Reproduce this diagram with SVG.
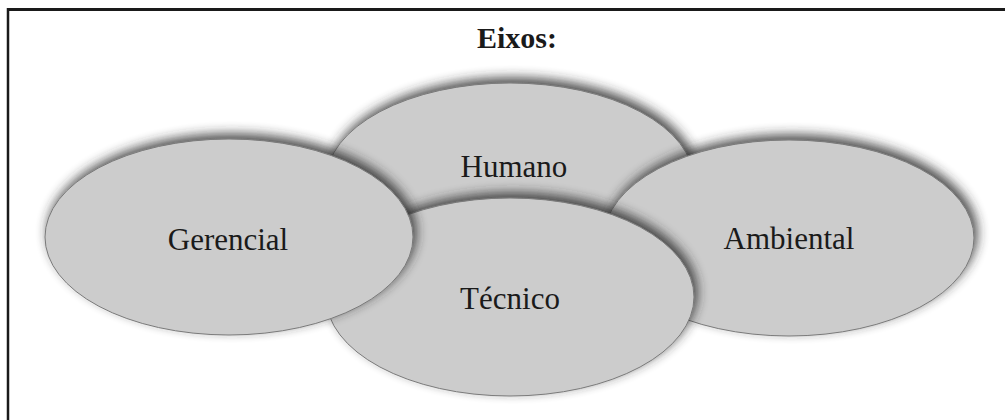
<svg xmlns="http://www.w3.org/2000/svg" width="1005" height="420" viewBox="0 0 1005 420">
<style>
.el{fill:#cccccc;stroke:#7a7a7a;stroke-width:1;filter:url(#sh)}
.lbl{font-family:"Liberation Serif","Times New Roman",serif;font-size:31px;fill:#1a1a1a;text-anchor:middle}
.title{font-family:"Liberation Serif","Times New Roman",serif;font-size:30px;font-weight:bold;fill:#1a1a1a;text-anchor:middle}
</style>
<defs>
<filter id="sh" x="-20%" y="-30%" width="140%" height="160%">
<feGaussianBlur in="SourceAlpha" stdDeviation="6" result="b"/>
<feOffset in="b" dx="3" dy="-5" result="o"/>
<feComponentTransfer in="o" result="s"><feFuncA type="linear" slope="0.85"/></feComponentTransfer>
<feFlood flood-color="#2a2a2a"/>
<feComposite in2="s" operator="in" result="sc"/>
<feMerge><feMergeNode in="sc"/><feMergeNode in="SourceGraphic"/></feMerge>
</filter>
</defs>
<rect width="1005" height="420" fill="#ffffff"/>
<line x1="7" y1="9.5" x2="1005" y2="9.5" stroke="#1a1a1a" stroke-width="3"/>
<line x1="8" y1="8" x2="8" y2="420" stroke="#1a1a1a" stroke-width="2.5"/>
<text class="title" x="517" y="48">Eixos:</text>
<g id="humano">
<ellipse class="el" cx="510" cy="181" rx="184" ry="98"/>
<text class="lbl" x="514" y="177">Humano</text>
</g>
<g id="ambiental">
<ellipse class="el" cx="789" cy="238" rx="185" ry="98"/>
<text class="lbl" x="789" y="249">Ambiental</text>
</g>
<g id="tecnico">
<ellipse class="el" cx="510" cy="297" rx="184" ry="99"/>
<text class="lbl" x="510" y="309">Técnico</text>
</g>
<g id="gerencial">
<ellipse class="el" cx="229" cy="237" rx="184" ry="98"/>
<text class="lbl" x="228" y="250">Gerencial</text>
</g>
<g id="connectors"/>
</svg>
